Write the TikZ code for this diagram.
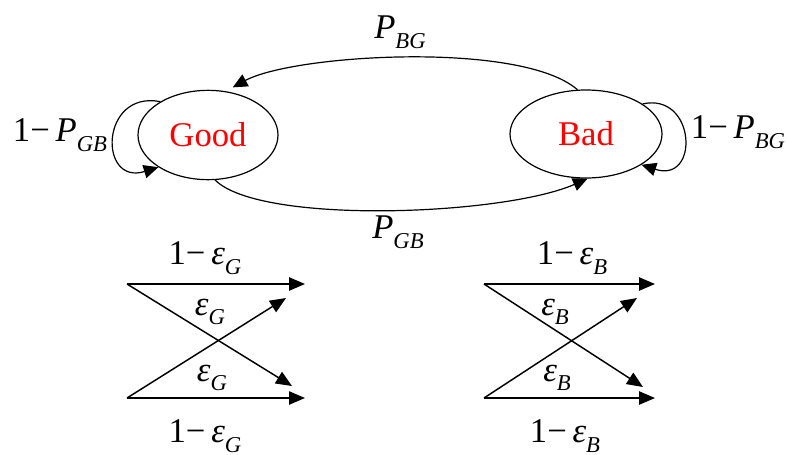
\documentclass[tikz,border=0pt]{standalone}
\usepackage{fontspec}
\setmainfont{Liberation Serif}
\usetikzlibrary{arrows.meta,shapes.geometric}

\newcommand{\lbl}[3]{#1\textit{#2}\raisebox{-0.6ex}{\fontsize{17}{17}\selectfont\textit{#3}}}

\tikzset{
  state/.style={draw,ellipse,line width=0.9pt,inner sep=0pt,text=red,
    font=\fontsize{26}{30}\selectfont},
  trans/.style={line width=0.9pt,-{Triangle[length=11pt,width=10pt]}},
  chan/.style={line width=1.1pt,-{Triangle[length=12pt,width=10pt]}},
  prob/.style={font=\fontsize{26}{30}\selectfont}
}

\begin{document}
\begin{tikzpicture}[x=0.75pt,y=-0.75pt]
  \useasboundingbox (0,0) rectangle (787,454);

  \node[state,minimum width=105pt,minimum height=67pt] (good) at (208,135) {Good};
  \node[state,minimum width=114pt,minimum height=66pt] (bad) at (586,134) {Bad};

  \draw[trans] (good.145) .. controls (100,90) and (98,186) .. (good.213);
  \draw[trans] (bad.28) .. controls (696,92) and (700,184) .. (bad.331);
  \draw[trans,shorten >=6pt] (bad.101) .. controls +(-56,-49) and +(68,-37) .. (good.68);
  \draw[trans] (good.279) .. controls +(45,45) and +(-84,37) .. (bad.272);

  \node[prob] (pbg) at (400,32) {\lbl{}{P}{BG}};
  \node[prob] (pgb) at (398,232) {\lbl{}{P}{GB}};
  \node[prob] (sgood) at (60,135) {\lbl{1−\,}{P}{GB}};
  \node[prob] (sbad) at (738,132) {\lbl{1−\,}{P}{BG}};

  \coordinate (gi1) at (127,284);
  \coordinate (gi2) at (127,398);
  \coordinate (go1) at (305,284);
  \coordinate (go2) at (305,398);
  \coordinate (gx1) at (292,386);
  \coordinate (gx2) at (286,298);
  \draw[chan] (gi1) -- (go1);
  \draw[chan] (gi2) -- (go2);
  \draw[chan] (gi1) -- (gx1);
  \draw[chan] (gi2) -- (gx2);

  \coordinate (bi1) at (484,284);
  \coordinate (bi2) at (484,398);
  \coordinate (bo1) at (655,284);
  \coordinate (bo2) at (655,398);
  \coordinate (bx1) at (643,387);
  \coordinate (bx2) at (637,298);
  \draw[chan] (bi1) -- (bo1);
  \draw[chan] (bi2) -- (bo2);
  \draw[chan] (bi1) -- (bx1);
  \draw[chan] (bi2) -- (bx2);

  \node[prob] (eg1) at (205,258) {\lbl{1−\,}{ε}{G}};
  \node[prob] (eg2) at (210,312) {\lbl{}{ε}{G}};
  \node[prob] (eg3) at (212,378) {\lbl{}{ε}{G}};
  \node[prob] (eg4) at (205,436) {\lbl{1−\,}{ε}{G}};
  \node[prob] (eb1) at (572,258) {\lbl{1−\,}{ε}{B}};
  \node[prob] (eb2) at (555,312) {\lbl{}{ε}{B}};
  \node[prob] (eb3) at (557,378) {\lbl{}{ε}{B}};
  \node[prob] (eb4) at (565,436) {\lbl{1−\,}{ε}{B}};
\end{tikzpicture}
\end{document}
